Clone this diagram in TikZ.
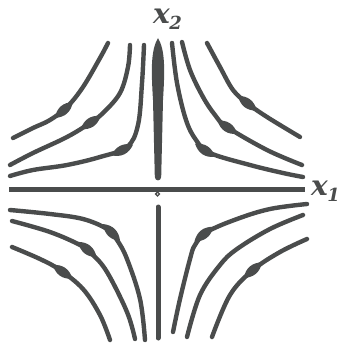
\documentclass[tikz,border=0pt]{standalone}
\usepackage{fontspec}
\newfontfamily\labelfont{DejaVu Serif}
\usetikzlibrary{decorations.markings}
\definecolor{ink}{RGB}{74,76,76}
\newcommand{\axlab}[1]{{\labelfont\bfseries\itshape x\kern-0.5pt\raisebox{-6pt}{\fontsize{18}{18}\selectfont #1}}}
\begin{document}
\begin{tikzpicture}[x=1pt,y=-1pt,
  traj/.style={draw=ink, line width=4.4pt, line cap=round, line join=round},
  bulge/.style={postaction={decorate, decoration={markings,
      mark=at position #1 with {\fill[ink] (-12pt,0pt) .. controls (-4pt,6.3pt) and (4pt,6.3pt) .. (12pt,0pt) .. controls (4pt,-6.3pt) and (-4pt,-6.3pt) .. (-12pt,0pt);}}}},
  axislabel/.style={inner sep=0pt, anchor=base west, text=ink, font=\fontsize{28}{28}\selectfont}
]
\useasboundingbox (0,0) rectangle (339,344);

% axes
\draw[ink, line width=5pt] (9,189) -- (305,189);
\fill[ink] (158,38) .. controls (151,50) and (151,68) .. (153,100)
  -- (154.8,177) .. controls (155.1,181.5) and (160.9,181.5) .. (161.2,177)
  -- (163,100) .. controls (165,68) and (165,50) .. (158,38) -- cycle;
\draw[ink, line width=5pt, line cap=round] (158,207) -- (158,338);
\draw[ink, line width=1.4pt, fill=white] (157.6,194) circle (1.9);

% upper left
\draw[traj, bulge=0.58] plot[smooth, tension=0.6] coordinates {(108,43) (100,58) (83,87) (67,107) (50,120) (33,128) (13,138)};
\draw[traj, bulge=0.5] plot[smooth, tension=0.6] coordinates {(130,45) (128,67) (120,93) (103,113) (90,123) (67,137) (33,153) (10,165)};
\draw[traj, bulge=0.49] plot[smooth, tension=0.6] coordinates {(144,45) (142,83) (138,125) (127,147) (100,157) (67,165) (33,170) (10,176)};

% upper right
\draw[traj, bulge=0.53] plot[smooth, tension=0.6] coordinates {(172,43) (177,83) (186,120) (196,140) (210,153) (250,165) (283,173) (303,177)};
\draw[traj, bulge=0.54] plot[smooth, tension=0.6] coordinates {(182,42) (190,70) (203,97) (215,115) (227,127) (267,150) (302,165)};
\draw[traj, bulge=0.54] plot[smooth, tension=0.6] coordinates {(207,43) (220,67) (233,90) (247,103) (267,117) (300,137)};

% lower left
\draw[traj, bulge=0.48] plot[smooth, tension=0.6] coordinates {(10,210) (50,214) (83,219) (107,229) (117,240) (127,259) (140,299) (145,340)};
\draw[traj, bulge=0.44] plot[smooth, tension=0.6] coordinates {(12,221) (50,232) (80,245) (92,254) (107,272) (127,312) (135,339)};
\draw[traj, bulge=0.4] plot[smooth, tension=0.6] coordinates {(12,247) (40,259) (60,270) (83,289) (100,315) (110,340)};

% lower right
\draw[traj, bulge=0.51] plot[smooth, tension=0.6] coordinates {(307,204) (270,209) (237,219) (207,232) (195,245) (190,259) (180,299) (173,332)};
\draw[traj] plot[smooth, tension=0.6] coordinates {(303,215) (270,229) (237,249) (220,265) (200,295) (187,337)};
\draw[traj, bulge=0.44] plot[smooth, tension=0.6] coordinates {(307,239) (280,252) (253,270) (230,295) (212,337)};

% labels
\node[axislabel] (xtwo) at (153,24) {\axlab{2}};
\node[axislabel] (xone) at (311,195) {\axlab{1}};
\end{tikzpicture}
\end{document}
